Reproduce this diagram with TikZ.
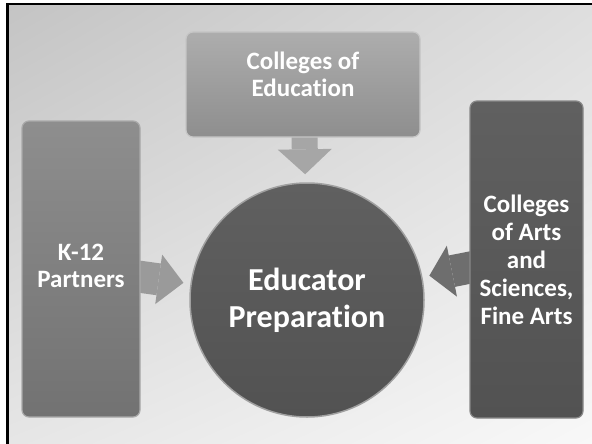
\documentclass[tikz,border=0pt]{standalone}
\usepackage{fontspec}
\setmainfont{Carlito}[Ligatures=NoCommon]
\usetikzlibrary{arrows.meta,calc,shadings}
\pgfdeclarelayer{bg}
\pgfdeclarelayer{arr}
\pgfsetlayers{bg,arr,main}
\definecolor{bgUL}{HTML}{C4C4C4}
\definecolor{bgUR}{HTML}{DEDEDE}
\definecolor{bgLL}{HTML}{E6E6E6}
\definecolor{bgLR}{HTML}{F8F8F8}
\definecolor{coeTop}{HTML}{ADADAD}
\definecolor{coeBot}{HTML}{8E8E8E}
\definecolor{kTop}{HTML}{8E8E8E}
\definecolor{kBot}{HTML}{727272}
\definecolor{artsTop}{HTML}{606060}
\definecolor{artsBot}{HTML}{525252}
\definecolor{epTop}{HTML}{606060}
\definecolor{epBot}{HTML}{525252}
\definecolor{arrTopC}{HTML}{A6A6A6}
\definecolor{arrLeftC}{HTML}{9A9A9A}
\definecolor{arrRightC}{HTML}{6E6E6E}
\tikzset{
  boxtext/.style={text=white, font=\bfseries\fontsize{25}{27}\selectfont, align=center, inner sep=2pt},
  roundbox/.style={boxtext, rectangle, rounded corners=7pt, line width=1.2pt},
  hubcircle/.style={circle, text=white, font=\bfseries\fontsize{32}{37}\selectfont, align=center, inner sep=0pt, minimum size=234pt, line width=1.5pt},
  blockarrow/.style={line width=#1, line cap=butt}
}
\begin{document}
\begin{tikzpicture}[x=1pt,y=-1pt]
\useasboundingbox (0,0) rectangle (592,444);
\begin{pgfonlayer}{bg}
\fill[white] (0,0) rectangle (592,444);
\shade[upper left=bgUL, upper right=bgUR, lower left=bgLL, lower right=bgLR] (8.5,5.3) rectangle (592,444);
\draw[black, line width=2pt] (6,4.3) -- (592,4.3);
\draw[black, line width=2.5pt] (7.5,3.3) -- (7.5,444);
\end{pgfonlayer}

\node[roundbox, top color=coeTop, bottom color=coeBot, draw=coeTop!70!white, minimum width=234pt, minimum height=105pt] (coe) at (303,84.5) {Colleges of\\Education\rule[-20pt]{0pt}{20pt}};
\node[roundbox, top color=kTop, bottom color=kBot, draw=kTop!75!white, minimum width=118pt, minimum height=296pt] (k12) at (81,269) {K-12\\Partners\rule[-6pt]{0pt}{6pt}};
\node[roundbox, font=\bfseries\fontsize{25}{28}\selectfont, top color=artsTop, bottom color=artsBot, draw=artsTop!75!white, minimum width=113pt, minimum height=317pt] (arts) at (526.5,259.5) {Colleges\\of Arts\\and\\Sciences,\\Fine Arts};
\node[hubcircle, top color=epTop, bottom color=epBot, draw=epTop!60!white] (ep) at (307,300) {Educator\\Preparation};

\begin{pgfonlayer}{arr}
\draw[blockarrow=26pt, draw=arrTopC, -{Triangle[length=25pt,width=54pt,line width=0pt]}, shorten >=8pt] ($(coe.south)+(1.5,-6)$) -- (ep);
\draw[blockarrow=32pt, draw=arrLeftC, -{Triangle[length=25pt,width=50pt,line width=0pt]}, shorten >=7pt] ($(k12.east)+(-6,7)$) -- (ep);
\draw[blockarrow=32pt, draw=arrRightC, -{Triangle[length=23pt,width=52pt,line width=0pt]}, shorten >=7pt] ($(arts.west)+(6,7)$) -- (ep);
\end{pgfonlayer}
\end{tikzpicture}
\end{document}
